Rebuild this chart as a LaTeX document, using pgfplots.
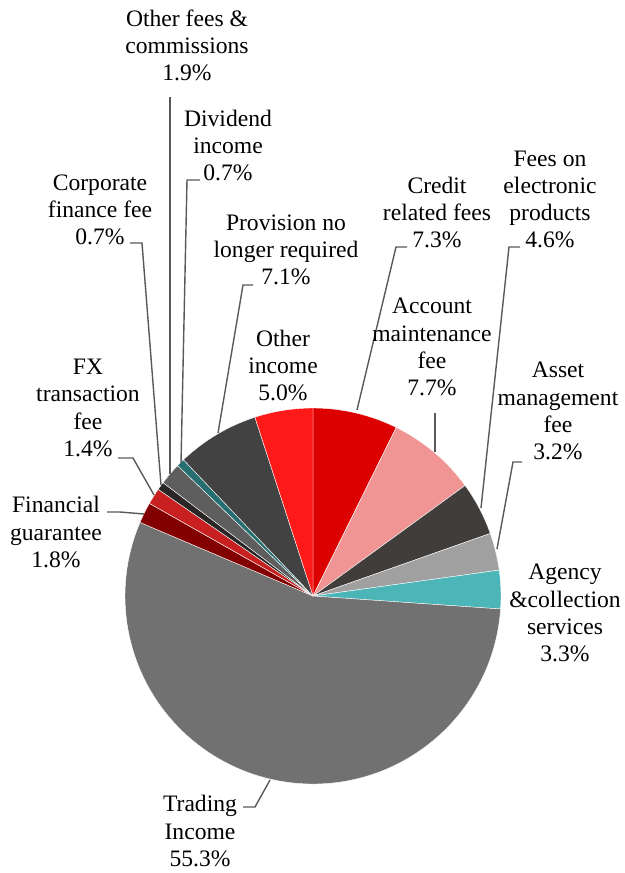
\documentclass[border=0pt]{standalone}
\usepackage{fontspec}
\setmainfont{Liberation Serif}
\usepackage{pgfplots}
\usepackage{pgfplotstable}
\pgfplotsset{compat=1.18}
\definecolor{cCredit}{HTML}{DC0000}
\definecolor{cAccount}{HTML}{F09494}
\definecolor{cElec}{HTML}{403D3B}
\definecolor{cAsset}{HTML}{A0A0A0}
\definecolor{cAgency}{HTML}{4BB5B8}
\definecolor{cTrading}{HTML}{717171}
\definecolor{cFinG}{HTML}{820000}
\definecolor{cFX}{HTML}{C82020}
\definecolor{cCorp}{HTML}{2A2625}
\definecolor{cOthFee}{HTML}{5E5E5E}
\definecolor{cDiv}{HTML}{266E70}
\definecolor{cProv}{HTML}{424242}
\definecolor{cOthInc}{HTML}{FF1A1A}
\definecolor{leader}{HTML}{595959}
\pgfplotstableread[col sep=comma]{
name,value,color
Credit related fees,7.3,cCredit
Account maintenance fee,7.7,cAccount
Fees on electronic products,4.6,cElec
Asset management fee,3.2,cAsset
Agency collection services,3.3,cAgency
Trading Income,55.3,cTrading
Financial guarantee,1.8,cFinG
FX transaction fee,1.4,cFX
Corporate finance fee,0.7,cCorp
Other fees and commissions,1.9,cOthFee
Dividend income,0.7,cDiv
Provision no longer required,7.1,cProv
Other income,5.0,cOthInc
}\piedata
\begin{document}
\begin{tikzpicture}
\begin{axis}[
  width=624pt, height=873pt, scale only axis,
  xmin=0, xmax=624, ymin=0, ymax=873, y dir=reverse,
  hide axis, clip=false,
  ldr/.style={leader, line width=1.4pt, solid, mark=none},
]
\path (rel axis cs:0,0) rectangle (rel axis cs:1,1);
\pgfplotstablegetrowsof{\piedata}
\pgfmathtruncatemacro\N{\pgfplotsretval-1}
\def\cum{0}
\pgfplotsforeachungrouped \i in {0,...,\N}{%
  \pgfplotstablegetelem{\i}{value}\of\piedata \let\v\pgfplotsretval
  \pgfplotstablegetelem{\i}{color}\of\piedata \let\c\pgfplotsretval
  \pgfmathsetmacro\a{90-\cum*3.6}%
  \pgfmathsetmacro\b{90-(\cum+\v)*3.6}%
  \edef\temp{\noexpand\fill[\c, draw=white, line width=0.4pt] (axis cs:313,596) -- ([shift={(\a:188pt)}]axis cs:313,596) arc[start angle=\a, end angle=\b, radius=188pt] -- cycle;}%
  \temp
  \pgfmathsetmacro\cum{\cum+\v}%
}
% leader lines
\addplot[ldr] coordinates {(407,247) (396,247) (357,410)};
\addplot[ldr] coordinates {(435,413) (435,452)};
\addplot[ldr] coordinates {(520,247) (509,247) (481,508)};
\addplot[ldr] coordinates {(522,462) (513,462) (497,549)};
\addplot[ldr] coordinates {(243,807) (255,807) (270,780)};
\addplot[ldr] coordinates {(107,512) (120,512) (144,514)};
\addplot[ldr] coordinates {(118,458) (133,458) (154,495)};
\addplot[ldr] coordinates {(130,243) (142,243) (161,485)};
\addplot[ldr] coordinates {(170,97) (170,474)};
\addplot[ldr] coordinates {(200,180) (187,180) (181,463)};
\addplot[ldr] coordinates {(253,285) (243,285) (218,433)};
% labels
\tikzset{lab/.style={align=center, inner sep=0pt, font=\rmfamily\fontsize{23.6}{27.2}\selectfont}}
\node[lab] at (axis cs:187,45.5) {Other fees \&\\commissions\\1.9\%};
\node[lab] at (axis cs:228,145.5) {Dividend\\income\\0.7\%};
\node[lab] at (axis cs:100,210) {Corporate\\finance fee\\0.7\%};
\node[lab] at (axis cs:286,250) {Provision no\\longer required\\7.1\%};
\node[lab] at (axis cs:283,365.5) {Other\\income\\5.0\%};
\node[lab] at (axis cs:88,408) {FX\\transaction\\fee\\1.4\%};
\node[lab] at (axis cs:56,532) {Financial\\guarantee\\1.8\%};
\node[lab] at (axis cs:437,212.5) {Credit\\related fees\\7.3\%};
\node[lab] at (axis cs:550,199.5) {Fees on\\electronic\\products\\4.6\%};
\node[lab] at (axis cs:432,347) {Account\\maintenance\\fee\\7.7\%};
\node[lab] at (axis cs:558,411) {Asset\\management\\fee\\3.2\%};
\node[lab] at (axis cs:565,613) {Agency\\\&collection\\services\\3.3\%};
\node[lab] at (axis cs:200,831) {Trading\\Income\\55.3\%};
\end{axis}
\end{tikzpicture}
\end{document}
